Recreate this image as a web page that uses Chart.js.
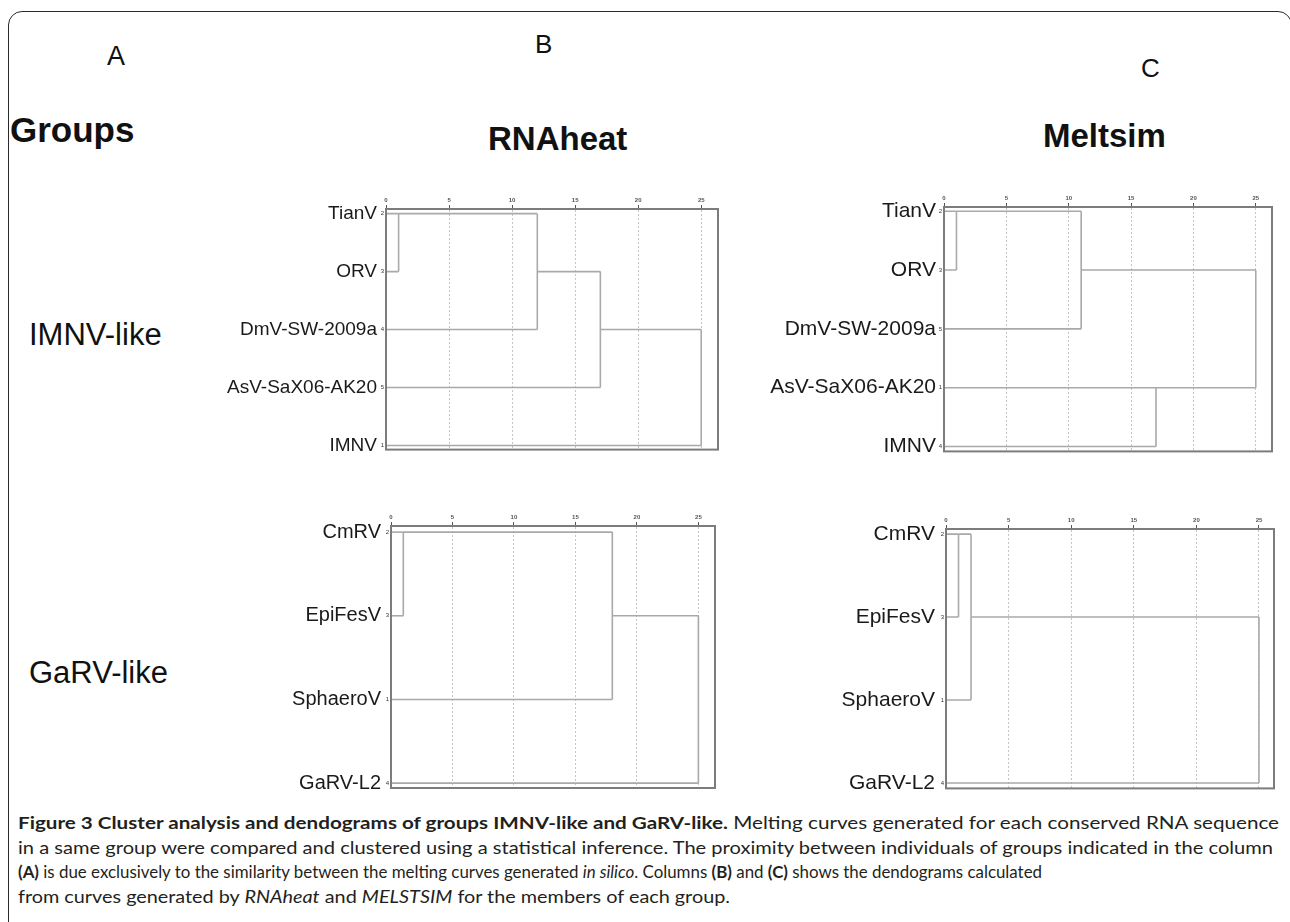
<!DOCTYPE html>
<html><head><meta charset="utf-8">
<script src="https://cdn.jsdelivr.net/npm/chart.js@4.4.1/dist/chart.umd.min.js"></script>
<style>
html,body{margin:0;padding:0;background:#fff;}
body{width:1290px;height:922px;overflow:hidden;position:relative;font-family:"Liberation Sans",Arial,sans-serif;}
.frame{position:absolute;left:8px;top:11px;width:1284px;height:1000px;border:1.5px solid #2a2a2a;border-radius:14px;box-sizing:border-box;}
.t{position:absolute;white-space:nowrap;color:#111;line-height:1;}
.cv{position:absolute;}
.cap{position:absolute;left:18px;white-space:nowrap;font-family:Lato,"Open Sans",sans-serif;font-size:17px;line-height:1;color:#231f20;transform-origin:0 0;}
</style>
</head><body>
<div class="frame"></div>
<div class="t" style="left:107px;top:43px;font-size:27px;">A</div>
<div class="t" style="left:535px;top:31px;font-size:26px;">B</div>
<div class="t" style="left:1141px;top:55px;font-size:26px;">C</div>
<div class="t" style="left:10px;top:112px;font-size:35px;font-weight:bold;">Groups</div>
<div class="t" style="left:488px;top:122px;font-size:33px;font-weight:bold;">RNAheat</div>
<div class="t" style="left:1043px;top:119px;font-size:33px;font-weight:bold;">Meltsim</div>
<div class="t" style="left:29px;top:319px;font-size:31px;">IMNV-like</div>
<div class="t" style="left:29px;top:657px;font-size:31px;">GaRV-like</div>

<canvas id="c1" class="cv"></canvas>
<canvas id="c2" class="cv"></canvas>
<canvas id="c3" class="cv"></canvas>
<canvas id="c4" class="cv"></canvas>

<div class="cap" data-w="1261" style="top:814px;"><b>Figure 3 Cluster analysis and dendograms of groups IMNV-like and GaRV-like.</b> Melting curves generated for each conserved RNA sequence</div>
<div class="cap" data-w="1255" style="top:839px;">in a same group were compared and clustered using a statistical inference. The proximity between individuals of groups indicated in the column</div>
<div class="cap" data-w="1024" style="top:863px;"><b>(A)</b> is due exclusively to the similarity between the melting curves generated <i>in silico</i>. Columns <b>(B)</b> and <b>(C)</b> shows the dendograms calculated</div>
<div class="cap" data-w="712" style="top:888px;">from curves generated by <i>RNAheat</i> and <i>MELSTSIM</i> for the members of each group.</div>

<script>
// ---- data ----
const xTickValues = [0, 5, 10, 15, 20, 25];

const imnvLabelsRNAheat = ['TianV', 'ORV', 'DmV-SW-2009a', 'AsV-SaX06-AK20', 'IMNV'];
const imnvIdsRNAheat = ['2', '3', '4', '5', '1'];
// merges: [upper row, lower row, rescaled distance]
const imnvMergesRNAheat = [[0, 1, 1], [0, 2, 12], [1, 3, 17], [2, 4, 25]];

const imnvLabelsMeltsim = ['TianV', 'ORV', 'DmV-SW-2009a', 'AsV-SaX06-AK20', 'IMNV'];
const imnvIdsMeltsim = ['2', '3', '5', '1', '4'];
const imnvMergesMeltsim = [[0, 1, 1], [0, 2, 11], [3, 4, 17], [1, 3, 25]];

const garvLabelsRNAheat = ['CmRV', 'EpiFesV', 'SphaeroV', 'GaRV-L2'];
const garvIdsRNAheat = ['2', '3', '1', '4'];
const garvMergesRNAheat = [[0, 1, 1], [0, 2, 18], [1, 3, 25]];

const garvLabelsMeltsim = ['CmRV', 'EpiFesV', 'SphaeroV', 'GaRV-L2'];
const garvIdsMeltsim = ['2', '3', '1', '4'];
const garvMergesMeltsim = [[0, 1, 1], [0, 2, 2], [1, 3, 25]];

// ---- build dendrogram segments from merges ----
function buildSegments(merges, n) {
  const start = new Array(n).fill(0);
  const segs = [];
  merges.forEach(([a, b, h]) => {
    segs.push([{x: start[a], y: a}, {x: h, y: a}]);
    segs.push([{x: start[b], y: b}, {x: h, y: b}]);
    segs.push([{x: h, y: a}, {x: h, y: b}]);
    start[Math.floor((a + b) / 2)] = h;
  });
  return segs;
}

const FONT = '"Liberation Sans", Arial, sans-serif';

function makeDendro(id, cfg) {
  const cv = document.getElementById(id);
  const c = cfg.canvas, b = cfg.box;
  cv.width = c.right - c.left; cv.height = c.bottom - c.top;
  cv.style.left = c.left + 'px'; cv.style.top = c.top + 'px';
  cv.style.width = cv.width + 'px'; cv.style.height = cv.height + 'px';
  const segs = buildSegments(cfg.merges, cfg.labels.length);
  const framePlugin = {
    id: 'frame' + id,
    afterDraw(chart) {
      const ctx = chart.ctx, a = chart.chartArea;
      ctx.save();
      ctx.strokeStyle = '#7c7c7c'; ctx.lineWidth = 2;
      ctx.strokeRect(a.left, a.top, a.right - a.left, a.bottom - a.top);
      ctx.fillStyle = '#333';
      ctx.font = '6px ' + FONT;
      ctx.textAlign = 'right'; ctx.textBaseline = 'middle';
      const ys = chart.scales.y;
      cfg.ids.forEach((t, i) => ctx.fillText(t, a.left - 2, ys.getPixelForValue(i)));
      ctx.restore();
    }
  };
  new Chart(cv.getContext('2d'), {
    type: 'scatter',
    data: {
      datasets: segs.map(s => ({
        data: s, showLine: true, borderColor: '#a9a9a9', borderWidth: 1.6,
        pointRadius: 0, pointHoverRadius: 0, fill: false, tension: 0
      }))
    },
    options: {
      responsive: false, animation: false, events: [],
      layout: {padding: {left: 0, top: 0, right: c.right - b.right, bottom: c.bottom - b.bottom}},
      plugins: {legend: {display: false}, tooltip: {enabled: false}},
      scales: {
        x: {
          type: 'linear', position: 'top', min: 0, max: cfg.xMax,
          afterFit: s => { s.height = b.top - c.top; },
          afterBuildTicks: s => { s.ticks = xTickValues.map(v => ({value: v})); },
          ticks: {font: {size: 6, family: FONT, weight: 'bold'}, color: '#555', padding: 1, maxRotation: 0, autoSkip: false},
          grid: {color: '#c4c4c4', lineWidth: 1, tickColor: '#555', tickLength: 4, tickWidth: 1, tickBorderDash: []},
          border: {display: true, color: '#7c7c7c', width: 2, dash: [2, 2]}
        },
        y: {
          type: 'linear', reverse: true, min: cfg.yMin, max: cfg.yMax,
          afterFit: s => { s.width = b.left - c.left; },
          afterBuildTicks: s => { s.ticks = cfg.labels.map((_, i) => ({value: i})); },
          ticks: {autoSkip: false, padding: cfg.pad, color: '#1a1a1a',
                  font: {size: cfg.fontSize, family: FONT},
                  callback: v => cfg.labels[v] !== undefined ? cfg.labels[v] : ''},
          grid: {display: false, drawTicks: false},
          border: {display: true, color: '#7c7c7c', width: 2}
        }
      }
    },
    plugins: [framePlugin]
  });
}

makeDendro('c1', {labels: imnvLabelsRNAheat, ids: imnvIdsRNAheat, merges: imnvMergesRNAheat,
  canvas: {left: 200, top: 175, right: 735, bottom: 470},
  box: {left: 386, top: 209, right: 718, bottom: 456},
  xMax: 26.33, yMin: -0.08, yMax: 4.072, fontSize: 19, pad: 9});

makeDendro('c2', {labels: imnvLabelsMeltsim, ids: imnvIdsMeltsim, merges: imnvMergesMeltsim,
  canvas: {left: 750, top: 172, right: 1288, bottom: 472},
  box: {left: 944, top: 207, right: 1272, bottom: 457},
  xMax: 26.3, yMin: -0.071, yMax: 4.083, fontSize: 21, pad: 8});

makeDendro('c3', {labels: garvLabelsRNAheat, ids: garvIdsRNAheat, merges: garvMergesRNAheat,
  canvas: {left: 200, top: 495, right: 735, bottom: 810},
  box: {left: 391, top: 526, right: 715, bottom: 797},
  xMax: 26.35, yMin: -0.073, yMax: 3.058, fontSize: 20, pad: 10});

makeDendro('c4', {labels: garvLabelsMeltsim, ids: garvIdsMeltsim, merges: garvMergesMeltsim,
  canvas: {left: 750, top: 498, right: 1288, bottom: 812},
  box: {left: 946, top: 529, right: 1274, bottom: 801},
  xMax: 26.2, yMin: -0.062, yMax: 3.066, fontSize: 21, pad: 11});

// fit caption lines to their measured widths in the reference
function fitCaption() {
  document.querySelectorAll('.cap').forEach(el => {
    el.style.transform = 'none';
    const w = el.getBoundingClientRect().width;
    const target = parseFloat(el.dataset.w);
    el.style.transform = 'scaleX(' + (target / w) + ')';
  });
}
fitCaption();
if (document.fonts && document.fonts.ready) document.fonts.ready.then(fitCaption);
</script>
</body></html>
